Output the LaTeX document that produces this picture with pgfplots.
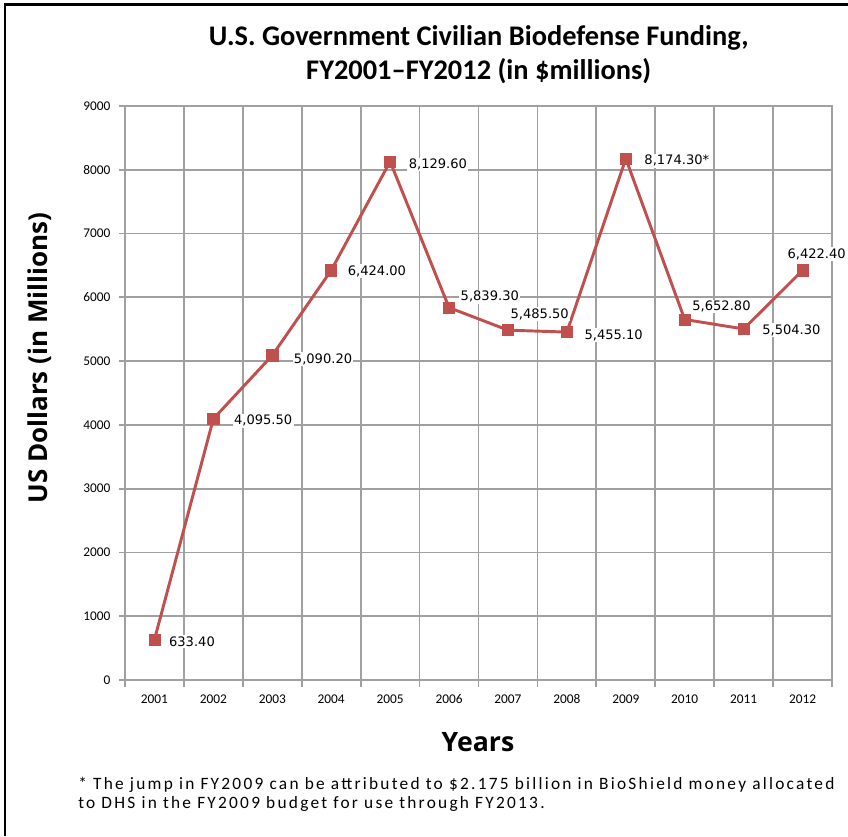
\documentclass[border=0pt]{standalone}
\usepackage{pgfplots}
\pgfplotsset{compat=1.18}
\usepackage{pgfplotstable}
\usepackage{fontspec}
\setmainfont{Carlito}
\newfontfamily\carlito[Ligatures=TeX]{Carlito}
\newfontfamily\opensans{Open Sans}
\newfontfamily\dejavu{DejaVu Sans}
\newfontfamily\footfont[LetterSpace=13]{Carlito}
\newcommand\tickfont{\carlito\fontsize{10}{12}\selectfont}
\definecolor{linered}{RGB}{192,80,77}
\definecolor{gridgray}{RGB}{160,160,160}

\pgfplotstableread{
x y label dx dy
0 633.4 633.40 9.75 -1.5
1 4095.5 4,095.50 14.25 -1.5
2 5090.2 5,090.20 15 -3
3 6424.0 6,424.00 11.25 -0.75
4 8129.6 8,129.60 12.75 -2.25
5 5839.3 5,839.30 7.5 8.25
6 5485.5 5,485.50 0.75 12
7 5455.1 5,455.10 12 -2.25
8 8174.3 8,174.30* 12.75 -1.5
9 5652.8 5,652.80 4.5 9.75
10 5504.3 5,504.30 12.75 -0.75
11 6422.4 6,422.40 -12.5 12
}\datatable

\begin{document}
\begin{tikzpicture}
\path[use as bounding box] (0,0) rectangle (636pt,-627pt);
\draw[line width=1.9pt] (3.75pt,-627pt) -- (3.75pt,-3.4pt) -- (636pt,-3.4pt);

\begin{axis}[
  scale only axis, width=530.25pt, height=430.5pt,
  at={(93.75pt,-510pt)}, anchor=south west,
  xmin=-0.5, xmax=11.5, ymin=0, ymax=9000,
  xtick={0,...,11},
  xticklabels={2001,2002,2003,2004,2005,2006,2007,2008,2009,2010,2011,2012},
  minor xtick={-0.5,0.5,1.5,2.5,3.5,4.5,5.5,6.5,7.5,8.5,9.5,10.5,11.5},
  xminorgrids=true, ymajorgrids=true, xmajorgrids=false,
  ytick={0,1000,...,9000},
  tick align=outside, tick pos=left,
  major tick length=4.5pt, minor tick length=5pt,
  major x tick style={draw=none},
  tick style={gridgray, line width=1.3pt},
  axis line style={gridgray, line width=1.3pt},
  grid style={gridgray, line width=1.3pt},
  minor grid style={gridgray, line width=1.3pt},
  xticklabel style={font=\tickfont, yshift=-3pt},
  yticklabel style={font=\tickfont, xshift=-3pt},
  /pgf/number format/assume math mode=true,
  /pgf/number format/1000 sep={},
  clip=false,
]
\addplot[color=linered, line width=2.2pt, mark=square*, mark size=4.2pt,
  mark options={fill=linered, draw=linered, line width=0.5pt},
  point meta=explicit symbolic,
  nodes near coords={\pgfplotspointmeta},
  visualization depends on={\thisrow{dx} \as \dx},
  visualization depends on={\thisrow{dy} \as \dy},
  nodes near coords style={anchor=west, xshift=\dx pt, yshift=\dy pt,
     fill=white, inner sep=1pt, text=black,
     font=\dejavu\fontsize{9.8}{11}\selectfont}]
  table[x=x, y=y, meta=label] {\datatable};
\end{axis}

\node[font=\carlito\bfseries\fontsize{21.3}{25.5}\selectfont, align=center, anchor=center]
  at (359pt,-41.25pt) {U.S. Government Civilian Biodefense Funding,\\FY2001–FY2012 (in \$millions)};
\node[font=\opensans\bfseries\fontsize{19.5}{22}\selectfont, rotate=90, anchor=center]
  at (30pt,-268.5pt) {US Dollars (in Millions)};
\node[font=\opensans\bfseries\fontsize{20}{24}\selectfont, anchor=center]
  at (358.5pt,-556.5pt) {Years};
\node[font=\footfont\fontsize{13}{14.25}\selectfont, align=left, anchor=north west, inner sep=0pt]
  at (58.5pt,-583pt) {* The jump in FY2009 can be attributed to \$2.175 billion in BioShield money allocated\\to DHS in the FY2009 budget for use through FY2013.};
\end{tikzpicture}
\end{document}
